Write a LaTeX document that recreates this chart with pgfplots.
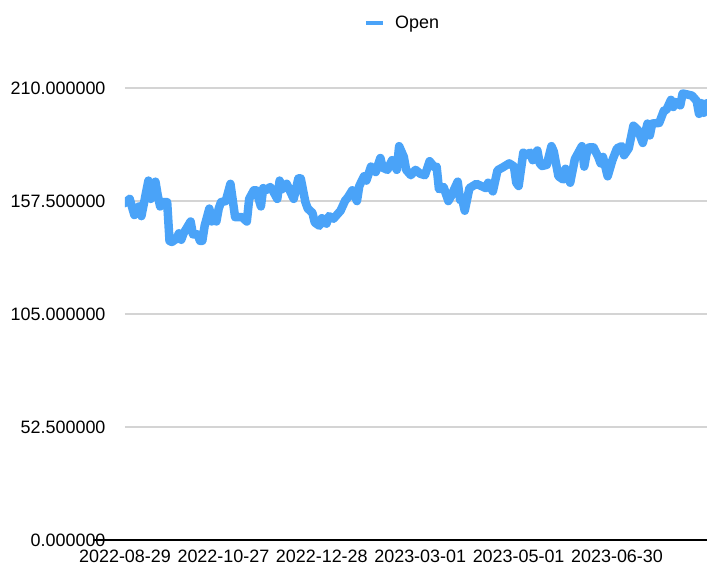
\documentclass[border=0pt]{standalone}
\usepackage{pgfplots}
\pgfplotsset{compat=1.18}
\usepackage{fontspec}
\setmainfont{Liberation Sans}
\definecolor{openblue}{RGB}{74,163,248}
\definecolor{gridgray}{RGB}{212,212,212}
\newcommand{\lblfont}{\fontsize{18}{21}\selectfont}
\begin{document}
\begin{tikzpicture}
\begin{axis}[
  scale only axis,
  width=582bp, height=462.7bp,
  xmin=0, xmax=248.4,
  ymin=0, ymax=215,
  ytick={0,52.5,105,157.5,210},
  xtick={0,42,84,126,168,210},
  xticklabels={2022-08-29,2022-10-27,2022-12-28,2023-03-01,2023-05-01,2023-06-30},
  ymajorgrids,
  grid style={gridgray, line width=1.2bp},
  axis line style={draw=none},
  major tick length=0pt,
  tick label style={font=\lblfont},
  /pgf/number format/.cd, fixed, fixed zerofill, precision=6, 1000 sep={}, assume math mode=true,
  /pgfplots/.cd,
  yticklabel style={xshift=-16bp},
  xticklabel style={yshift=-6bp},
  legend style={at={(axis description cs:0.4768,1.117)}, anchor=center, draw=none, fill=none, font=\lblfont, inner sep=0pt},
  legend image code/.code={\draw[#1, line width=4bp, line cap=butt] (0bp,0bp) -- (17bp,0bp); \path (23bp,0bp);},
]
\addplot[color=openblue, line width=8.5bp, line join=round, line cap=round] coordinates {
(0,156.5) (2,158.5) (4,151) (6,155) (7,150.5) (10,167) (11,158.5) (13,166.5)
(14,160) (15,155) (16,157) (18,157) (19,139) (20,138.5) (22,140) (23,142.5)
(24,139.5) (25,142.5) (28,148) (29,142) (31,142) (32,139) (33,139) (34,146)
(36,154) (37,148) (38,151.5) (39,148) (40,154) (41,157) (43,157.5) (45,165.5)
(47,150) (50,150) (52,148) (53,158.5) (55,162.5) (56,162.5) (58,155) (59,163.5)
(60,162.5) (62,164) (63,162.5) (65,158.5) (66,167) (67,163) (69,165.5) (72,158.5)
(74,168) (75,168) (77,157) (78,154) (80,152) (81,147.5) (83,146) (84,149.5)
(86,147) (87,150.5) (89,149.3) (92,153) (94,157.8) (95,159) (97,162.5) (99,157.5)
(100,164.5) (102,169) (103,167) (105,173.5) (107,171) (109,177.5) (110,173) (112,172)
(114,176.5) (116,172) (117,183) (119,178) (120,172) (122,169.5) (124,172) (126,170.2)
(128,169.5) (130,176) (132,173.3) (133,173.5) (134,163) (136,164) (138,157.5) (139,159.4)
(142,166.5) (143,158) (144,158) (145,153) (147,163.5) (150,165.5) (153,164) (154,163.5)
(155,166) (157,162) (159,171.8) (161,173) (164,175) (166,173.6) (167,166) (168,164.5)
(170,180) (171,178.8) (173,180) (174,176.5) (176,181) (177,175) (178,173.8) (180,174.3)
(182,183) (183,180.5) (185,169) (187,167.5) (188,172.5) (190,166) (192,177) (195,183)
(196,173.5) (197,179.5) (198,182.4) (200,182.4) (202,178) (203,175) (204,178) (206,169)
(208,176.4) (210,182) (212,183) (213,178.8) (215,182) (217,192.5) (219,190.4) (221,184.5)
(223,193.5) (224,188) (225,193.5) (228,193.8) (230,199.5) (231,199.7) (233,204.5) (234,201.2)
(235,203.6) (237,202) (238,207.5) (240,207) (242,206.5) (244,204) (245,198) (246,203)
(247,198.5) (248.4,203)
};
\addlegendentry{Open}
\coordinate (O) at (rel axis cs:0,0);
\coordinate (E) at (rel axis cs:1,0);
\end{axis}
\draw[black, line width=1.6bp] ([xshift=-32bp]O) -- (E);
\pgfresetboundingbox
\path[use as bounding box] ([shift={(-125bp,-25bp)}]O) rectangle ([shift={(582bp,540bp)}]O);
\end{tikzpicture}
\end{document}
